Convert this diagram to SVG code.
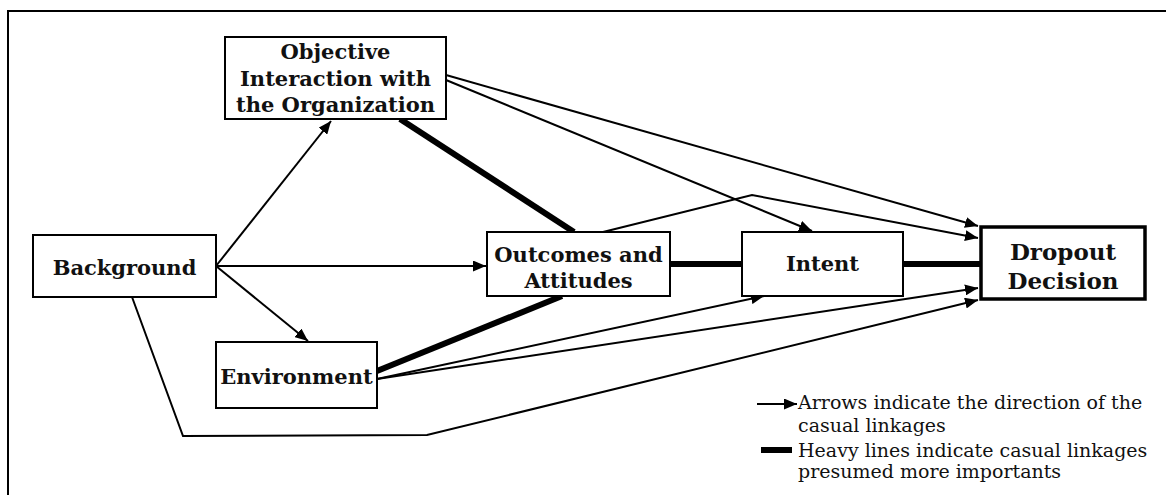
<svg xmlns="http://www.w3.org/2000/svg" width="1166" height="495" viewBox="0 0 1166 495">
  <style>
    .frame { fill: none; stroke: #000; stroke-width: 2; }
    .box { fill: #fff; stroke: #000; stroke-width: 2; }
    .box-main { fill: #fff; stroke: #000; stroke-width: 3.5; }
    .lbl { font-family: "DejaVu Serif", serif; font-weight: bold; font-size: 21px; fill: #111; text-anchor: middle; }
    .lbl-main { font-size: 23px; }
    .link { fill: none; stroke: #000; stroke-width: 2; }
    .heavy { fill: none; stroke: #000; stroke-width: 6; }
    .note { font-family: "DejaVu Serif", serif; font-size: 19px; fill: #111; }
  </style>
  <defs>
    <marker id="arrow" markerUnits="userSpaceOnUse" markerWidth="13" markerHeight="11" refX="13" refY="5.5" orient="auto">
      <path d="M0,0 L13,5.5 L0,11 z" fill="#000"/>
    </marker>
  </defs>

  <rect width="1166" height="495" fill="#fff"/>
  <!-- outer frame -->
  <path class="frame" d="M8,496 V11 H1167"/>

  <!-- connectors -->
  <g id="connectors">
    <!-- heavy linkages -->
    <line class="heavy" x1="400" y1="119" x2="574" y2="232"/>
    <line class="heavy" x1="670" y1="264" x2="742" y2="264"/>
    <line class="heavy" x1="903" y1="264" x2="981" y2="264"/>
    <line class="heavy" x1="377" y1="371" x2="562" y2="296"/>
    <!-- directed linkages -->
    <line class="link" x1="216" y1="266" x2="331" y2="121" marker-end="url(#arrow)"/>
    <line class="link" x1="216" y1="266" x2="486" y2="266" marker-end="url(#arrow)"/>
    <line class="link" x1="216" y1="266" x2="308" y2="341" marker-end="url(#arrow)"/>
    <line class="link" x1="446" y1="75" x2="978" y2="226" marker-end="url(#arrow)"/>
    <line class="link" x1="446" y1="80" x2="812" y2="231" marker-end="url(#arrow)"/>
    <polyline class="link" points="603,232 752,195 978,238" marker-end="url(#arrow)"/>
    <line class="link" x1="377" y1="379" x2="764" y2="296" marker-end="url(#arrow)"/>
    <line class="link" x1="377" y1="379" x2="978" y2="288" marker-end="url(#arrow)"/>
    <polyline class="link" points="132,297 183,436 427,435 978,300" marker-end="url(#arrow)"/>
  </g>

  <g id="objective">
    <rect class="box" x="225" y="37" width="221" height="82"/>
    <text class="lbl" x="335.5" y="59">Objective</text>
    <text class="lbl" x="335.5" y="85.5">Interaction with</text>
    <text class="lbl" x="335.5" y="112">the Organization</text>
  </g>

  <g id="background">
    <rect class="box" x="33" y="235" width="183" height="62"/>
    <text class="lbl" x="124.5" y="275">Background</text>
  </g>

  <g id="outcomes">
    <rect class="box" x="487" y="232" width="183" height="64"/>
    <text class="lbl" x="578.5" y="262">Outcomes and</text>
    <text class="lbl" x="578.5" y="288">Attitudes</text>
  </g>

  <g id="intent">
    <rect class="box" x="742" y="232" width="161" height="64"/>
    <text class="lbl" x="822.5" y="271">Intent</text>
  </g>

  <g id="dropout">
    <rect class="box-main" x="981" y="227" width="164" height="72"/>
    <text class="lbl lbl-main" x="1063" y="260">Dropout</text>
    <text class="lbl lbl-main" x="1063" y="289">Decision</text>
  </g>

  <g id="environment">
    <rect class="box" x="216" y="342" width="161" height="66"/>
    <text class="lbl" x="296.5" y="384">Environment</text>
  </g>

  <!-- key -->
  <g id="legend">
    <line class="link" x1="757" y1="404" x2="797" y2="404" marker-end="url(#arrow)"/>
    <text class="note" x="798" y="409">Arrows indicate the direction of the</text>
    <text class="note" x="798" y="432">casual linkages</text>
    <line class="heavy" x1="761" y1="450" x2="792" y2="450"/>
    <text class="note" x="798" y="457">Heavy lines indicate casual linkages</text>
    <text class="note" x="798" y="478">presumed more importants</text>
  </g>
</svg>
